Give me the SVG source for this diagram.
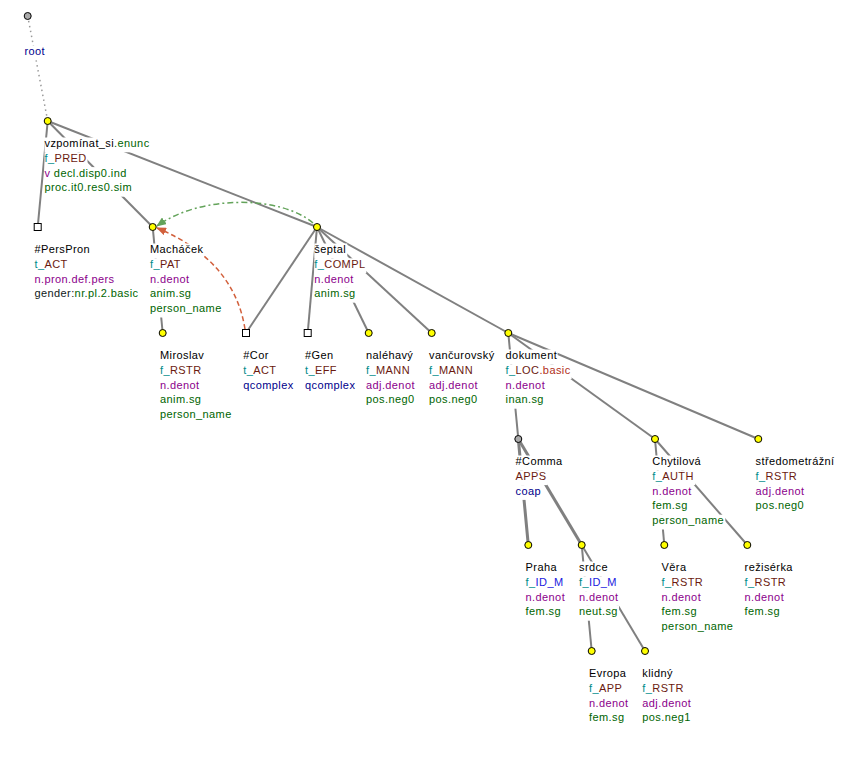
<svg xmlns="http://www.w3.org/2000/svg" width="861" height="759" viewBox="0 0 861 759">
<style>
.e{stroke:#808080;stroke-width:2;fill:none}
.e3{stroke:#808080;stroke-width:3;fill:none}
.bg{fill:#fff}
.t{font-family:"Liberation Sans",Arial,sans-serif;font-size:11px;letter-spacing:0.4px;fill:#000}
.y{fill:#ffff00;stroke:#000;stroke-width:1}
.g{fill:#aaaaaa;stroke:#000;stroke-width:1}
.s{fill:#fff;stroke:#000;stroke-width:1}
.tl{fill:#008b8b}.fn{fill:#6b1a0f}.pu{fill:#8b008b}.gr{fill:#006400}.db{fill:#00008b}.bl{fill:#2020e0}.rd{fill:#b03020}.dk{fill:#102020}
</style>
<defs>
<marker id="ag" markerWidth="10" markerHeight="8" refX="9" refY="4" orient="auto" markerUnits="userSpaceOnUse"><path d="M0,0 L10,4 L0,8 z" fill="#63a35a"/></marker>
<marker id="ao" markerWidth="10" markerHeight="8" refX="9" refY="4" orient="auto" markerUnits="userSpaceOnUse"><path d="M0,0 L10,4 L0,8 z" fill="#d2603c"/></marker>
</defs>
<rect width="861" height="759" fill="#fff"/>
<g id="connectors">
<line x1="27.7" y1="16" x2="47.7" y2="121" stroke="#999" stroke-width="1.5" stroke-dasharray="1.5,3.5"/>
<line class="e" x1="47.7" y1="121" x2="37.7" y2="227"/>
<line class="e" x1="47.7" y1="121" x2="152.7" y2="227"/>
<line class="e" x1="47.7" y1="121" x2="317" y2="227"/>
<line class="e" x1="152.7" y1="227" x2="162.7" y2="333"/>
<line class="e" x1="317" y1="227" x2="246" y2="333"/>
<line class="e" x1="317" y1="227" x2="307.7" y2="333"/>
<line class="e" x1="317" y1="227" x2="368.7" y2="333"/>
<line class="e" x1="317" y1="227" x2="431.7" y2="333"/>
<line class="e" x1="317" y1="227" x2="508.3" y2="333"/>
<line class="e" x1="508.3" y1="333" x2="518.3" y2="439"/>
<line class="e" x1="508.3" y1="333" x2="655" y2="439"/>
<line class="e" x1="508.3" y1="333" x2="758.3" y2="439"/>
<line class="e3" x1="518.3" y1="439" x2="528.3" y2="545"/>
<line class="e3" x1="518.3" y1="439" x2="581.7" y2="545"/>
<line class="e" x1="655" y1="439" x2="664.3" y2="545"/>
<line class="e" x1="655" y1="439" x2="747.3" y2="545"/>
<line class="e" x1="581.7" y1="545" x2="591.7" y2="651"/>
<line class="e" x1="581.7" y1="545" x2="645" y2="651"/>
<path d="M313,223 C280,195 200,195 157,226" fill="none" stroke="#63a35a" stroke-width="1.5" stroke-dasharray="6,3,2,3" marker-end="url(#ag)"/>
<path d="M245,329 C238,285 210,250 157,228" fill="none" stroke="#d2603c" stroke-width="1.5" stroke-dasharray="5,3" marker-end="url(#ao)"/>
</g>

<g id="n-root">
<circle class="g" cx="27.7" cy="16" r="3.5"/>
<rect class="bg" x="24.5" y="45.5" width="21" height="14.8"/>
<text class="t db" x="24.5" y="55">root</text>
</g>

<g id="n-vzpominat">
<rect class="bg" x="44.5" y="137.5" width="106" height="14.8"/>
<rect class="bg" x="44.5" y="152.3" width="43" height="14.8"/>
<rect class="bg" x="44.5" y="167.1" width="83" height="14.8"/>
<rect class="bg" x="44.5" y="181.9" width="88" height="14.8"/>
<circle class="y" cx="47.7" cy="121" r="3.5"/>
<text class="t" x="44.5" y="147">vzpomínat_si<tspan class="gr">.enunc</tspan></text>
<text class="t tl" x="44.5" y="161.8">f_<tspan class="fn">PRED</tspan></text>
<text class="t pu" x="44.5" y="176.6">v <tspan class="gr">decl.disp0.ind</tspan></text>
<text class="t gr" x="44.5" y="191.4">proc.it0.res0.sim</text>
</g>

<g id="n-perspron">
<rect class="bg" x="34.5" y="243.5" width="57" height="14.8"/>
<rect class="bg" x="34.5" y="258.3" width="34" height="14.8"/>
<rect class="bg" x="34.5" y="273.1" width="81" height="14.8"/>
<rect class="bg" x="34.5" y="287.9" width="106" height="14.8"/>
<rect class="s" x="34.2" y="223.5" width="7" height="7"/>
<text class="t" x="34.5" y="253">#PersPron</text>
<text class="t tl" x="34.5" y="267.8">t_<tspan class="fn">ACT</tspan></text>
<text class="t pu" x="34.5" y="282.6">n.pron.def.pers</text>
<text class="t dk" x="34.5" y="297.4">gender:<tspan class="gr">nr.pl.2.basic</tspan></text>
</g>

<g id="n-machacek">
<rect class="bg" x="150" y="243.5" width="54" height="14.8"/>
<rect class="bg" x="150" y="258.3" width="34" height="14.8"/>
<rect class="bg" x="150" y="273.1" width="41" height="14.8"/>
<rect class="bg" x="150" y="287.9" width="42" height="14.8"/>
<rect class="bg" x="150" y="302.7" width="73" height="14.8"/>
<circle class="y" cx="152.7" cy="227" r="3.5"/>
<text class="t" x="150" y="253">Macháček</text>
<text class="t tl" x="150" y="267.8">f_<tspan class="fn">PAT</tspan></text>
<text class="t pu" x="150" y="282.6">n.denot</text>
<text class="t gr" x="150" y="297.4">anim.sg</text>
<text class="t gr" x="150" y="312.2">person_name</text>
</g>

<g id="n-septal">
<rect class="bg" x="314.3" y="243.5" width="33" height="14.8"/>
<rect class="bg" x="314.3" y="258.3" width="52" height="14.8"/>
<rect class="bg" x="314.3" y="273.1" width="41" height="14.8"/>
<rect class="bg" x="314.3" y="287.9" width="42" height="14.8"/>
<circle class="y" cx="317" cy="227" r="3.5"/>
<text class="t" x="314.3" y="253">šeptal</text>
<text class="t tl" x="314.3" y="267.8">f_<tspan class="fn">COMPL</tspan></text>
<text class="t pu" x="314.3" y="282.6">n.denot</text>
<text class="t gr" x="314.3" y="297.4">anim.sg</text>
</g>

<g id="n-miroslav">
<rect class="bg" x="160" y="349.5" width="45" height="14.8"/>
<rect class="bg" x="160" y="364.3" width="43" height="14.8"/>
<rect class="bg" x="160" y="379.1" width="41" height="14.8"/>
<rect class="bg" x="160" y="393.9" width="42" height="14.8"/>
<rect class="bg" x="160" y="408.7" width="73" height="14.8"/>
<circle class="y" cx="162.7" cy="333" r="3.5"/>
<text class="t" x="160" y="359">Miroslav</text>
<text class="t tl" x="160" y="373.8">f_<tspan class="fn">RSTR</tspan></text>
<text class="t pu" x="160" y="388.6">n.denot</text>
<text class="t gr" x="160" y="403.4">anim.sg</text>
<text class="t gr" x="160" y="418.2">person_name</text>
</g>

<g id="n-cor">
<rect class="bg" x="243.3" y="349.5" width="26" height="14.8"/>
<rect class="bg" x="243.3" y="364.3" width="34" height="14.8"/>
<rect class="bg" x="243.3" y="379.1" width="51" height="14.8"/>
<rect class="s" x="242.5" y="329.5" width="7" height="7"/>
<text class="t" x="243.3" y="359">#Cor</text>
<text class="t tl" x="243.3" y="373.8">t_<tspan class="fn">ACT</tspan></text>
<text class="t db" x="243.3" y="388.6">qcomplex</text>
</g>

<g id="n-gen">
<rect class="bg" x="305" y="349.5" width="29" height="14.8"/>
<rect class="bg" x="305" y="364.3" width="33" height="14.8"/>
<rect class="bg" x="305" y="379.1" width="51" height="14.8"/>
<rect class="s" x="304.2" y="329.5" width="7" height="7"/>
<text class="t" x="305" y="359">#Gen</text>
<text class="t tl" x="305" y="373.8">t_<tspan class="fn">EFF</tspan></text>
<text class="t db" x="305" y="388.6">qcomplex</text>
</g>

<g id="n-nalehavy">
<rect class="bg" x="366" y="349.5" width="48" height="14.8"/>
<rect class="bg" x="366" y="364.3" width="45" height="14.8"/>
<rect class="bg" x="366" y="379.1" width="50" height="14.8"/>
<rect class="bg" x="366" y="393.9" width="50" height="14.8"/>
<circle class="y" cx="368.7" cy="333" r="3.5"/>
<text class="t" x="366" y="359">naléhavý</text>
<text class="t tl" x="366" y="373.8">f_<tspan class="fn">MANN</tspan></text>
<text class="t pu" x="366" y="388.6">adj.denot</text>
<text class="t gr" x="366" y="403.4">pos.neg0</text>
</g>

<g id="n-vancurovsky">
<rect class="bg" x="429" y="349.5" width="66" height="14.8"/>
<rect class="bg" x="429" y="364.3" width="45" height="14.8"/>
<rect class="bg" x="429" y="379.1" width="50" height="14.8"/>
<rect class="bg" x="429" y="393.9" width="50" height="14.8"/>
<circle class="y" cx="431.7" cy="333" r="3.5"/>
<text class="t" x="429" y="359">vančurovský</text>
<text class="t tl" x="429" y="373.8">f_<tspan class="fn">MANN</tspan></text>
<text class="t pu" x="429" y="388.6">adj.denot</text>
<text class="t gr" x="429" y="403.4">pos.neg0</text>
</g>

<g id="n-dokument">
<rect class="bg" x="505.6" y="349.5" width="52" height="14.8"/>
<rect class="bg" x="505.6" y="364.3" width="66" height="14.8"/>
<rect class="bg" x="505.6" y="379.1" width="41" height="14.8"/>
<rect class="bg" x="505.6" y="393.9" width="39" height="14.8"/>
<circle class="y" cx="508.3" cy="333" r="3.5"/>
<text class="t" x="505.6" y="359">dokument</text>
<text class="t tl" x="505.6" y="373.8">f_<tspan class="fn">LOC</tspan><tspan class="rd">.basic</tspan></text>
<text class="t pu" x="505.6" y="388.6">n.denot</text>
<text class="t gr" x="505.6" y="403.4">inan.sg</text>
</g>

<g id="n-comma">
<rect class="bg" x="515.6" y="455.5" width="48" height="14.8"/>
<rect class="bg" x="515.6" y="470.3" width="32" height="14.8"/>
<rect class="bg" x="515.6" y="485.1" width="26" height="14.8"/>
<circle class="g" cx="518.3" cy="439" r="3.5"/>
<text class="t" x="515.6" y="465">#Comma</text>
<text class="t fn" x="515.6" y="479.8">APPS</text>
<text class="t db" x="515.6" y="494.6">coap</text>
</g>

<g id="n-chytilova">
<rect class="bg" x="652.3" y="455.5" width="50" height="14.8"/>
<rect class="bg" x="652.3" y="470.3" width="43" height="14.8"/>
<rect class="bg" x="652.3" y="485.1" width="41" height="14.8"/>
<rect class="bg" x="652.3" y="499.9" width="36" height="14.8"/>
<rect class="bg" x="652.3" y="514.7" width="73" height="14.8"/>
<circle class="y" cx="655" cy="439" r="3.5"/>
<text class="t" x="652.3" y="465">Chytilová</text>
<text class="t tl" x="652.3" y="479.8">f_<tspan class="fn">AUTH</tspan></text>
<text class="t pu" x="652.3" y="494.6">n.denot</text>
<text class="t gr" x="652.3" y="509.4">fem.sg</text>
<text class="t gr" x="652.3" y="524.2">person_name</text>
</g>

<g id="n-stredometrazni">
<rect class="bg" x="755.6" y="455.5" width="80" height="14.8"/>
<rect class="bg" x="755.6" y="470.3" width="43" height="14.8"/>
<rect class="bg" x="755.6" y="485.1" width="50" height="14.8"/>
<rect class="bg" x="755.6" y="499.9" width="50" height="14.8"/>
<circle class="y" cx="758.3" cy="439" r="3.5"/>
<text class="t" x="755.6" y="465">středometrážní</text>
<text class="t tl" x="755.6" y="479.8">f_<tspan class="fn">RSTR</tspan></text>
<text class="t pu" x="755.6" y="494.6">adj.denot</text>
<text class="t gr" x="755.6" y="509.4">pos.neg0</text>
</g>

<g id="n-praha">
<rect class="bg" x="525.6" y="561.5" width="32" height="14.8"/>
<rect class="bg" x="525.6" y="576.3" width="39" height="14.8"/>
<rect class="bg" x="525.6" y="591.1" width="41" height="14.8"/>
<rect class="bg" x="525.6" y="605.9" width="36" height="14.8"/>
<circle class="y" cx="528.3" cy="545" r="3.5"/>
<text class="t" x="525.6" y="571">Praha</text>
<text class="t tl" x="525.6" y="585.8">f_<tspan class="bl">ID_M</tspan></text>
<text class="t pu" x="525.6" y="600.6">n.denot</text>
<text class="t gr" x="525.6" y="615.4">fem.sg</text>
</g>

<g id="n-srdce">
<rect class="bg" x="579" y="561.5" width="30" height="14.8"/>
<rect class="bg" x="579" y="576.3" width="39" height="14.8"/>
<rect class="bg" x="579" y="591.1" width="41" height="14.8"/>
<rect class="bg" x="579" y="605.9" width="40" height="14.8"/>
<circle class="y" cx="581.7" cy="545" r="3.5"/>
<text class="t" x="579" y="571">srdce</text>
<text class="t tl" x="579" y="585.8">f_<tspan class="bl">ID_M</tspan></text>
<text class="t pu" x="579" y="600.6">n.denot</text>
<text class="t gr" x="579" y="615.4">neut.sg</text>
</g>

<g id="n-vera">
<rect class="bg" x="661.6" y="561.5" width="26" height="14.8"/>
<rect class="bg" x="661.6" y="576.3" width="43" height="14.8"/>
<rect class="bg" x="661.6" y="591.1" width="41" height="14.8"/>
<rect class="bg" x="661.6" y="605.9" width="36" height="14.8"/>
<rect class="bg" x="661.6" y="620.7" width="73" height="14.8"/>
<circle class="y" cx="664.3" cy="545" r="3.5"/>
<text class="t" x="661.6" y="571">Věra</text>
<text class="t tl" x="661.6" y="585.8">f_<tspan class="fn">RSTR</tspan></text>
<text class="t pu" x="661.6" y="600.6">n.denot</text>
<text class="t gr" x="661.6" y="615.4">fem.sg</text>
<text class="t gr" x="661.6" y="630.2">person_name</text>
</g>

<g id="n-reziserka">
<rect class="bg" x="744.6" y="561.5" width="49" height="14.8"/>
<rect class="bg" x="744.6" y="576.3" width="43" height="14.8"/>
<rect class="bg" x="744.6" y="591.1" width="41" height="14.8"/>
<rect class="bg" x="744.6" y="605.9" width="36" height="14.8"/>
<circle class="y" cx="747.3" cy="545" r="3.5"/>
<text class="t" x="744.6" y="571">režisérka</text>
<text class="t tl" x="744.6" y="585.8">f_<tspan class="fn">RSTR</tspan></text>
<text class="t pu" x="744.6" y="600.6">n.denot</text>
<text class="t gr" x="744.6" y="615.4">fem.sg</text>
</g>

<g id="n-evropa">
<rect class="bg" x="589" y="667.5" width="38" height="14.8"/>
<rect class="bg" x="589" y="682.3" width="34" height="14.8"/>
<rect class="bg" x="589" y="697.1" width="41" height="14.8"/>
<rect class="bg" x="589" y="711.9" width="36" height="14.8"/>
<circle class="y" cx="591.7" cy="651" r="3.5"/>
<text class="t" x="589" y="677">Evropa</text>
<text class="t tl" x="589" y="691.8">f_<tspan class="fn">APP</tspan></text>
<text class="t pu" x="589" y="706.6">n.denot</text>
<text class="t gr" x="589" y="721.4">fem.sg</text>
</g>

<g id="n-klidny">
<rect class="bg" x="642.3" y="667.5" width="32" height="14.8"/>
<rect class="bg" x="642.3" y="682.3" width="43" height="14.8"/>
<rect class="bg" x="642.3" y="697.1" width="50" height="14.8"/>
<rect class="bg" x="642.3" y="711.9" width="50" height="14.8"/>
<circle class="y" cx="645" cy="651" r="3.5"/>
<text class="t" x="642.3" y="677">klidný</text>
<text class="t tl" x="642.3" y="691.8">f_<tspan class="fn">RSTR</tspan></text>
<text class="t pu" x="642.3" y="706.6">adj.denot</text>
<text class="t gr" x="642.3" y="721.4">pos.neg1</text>
</g>
</svg>
